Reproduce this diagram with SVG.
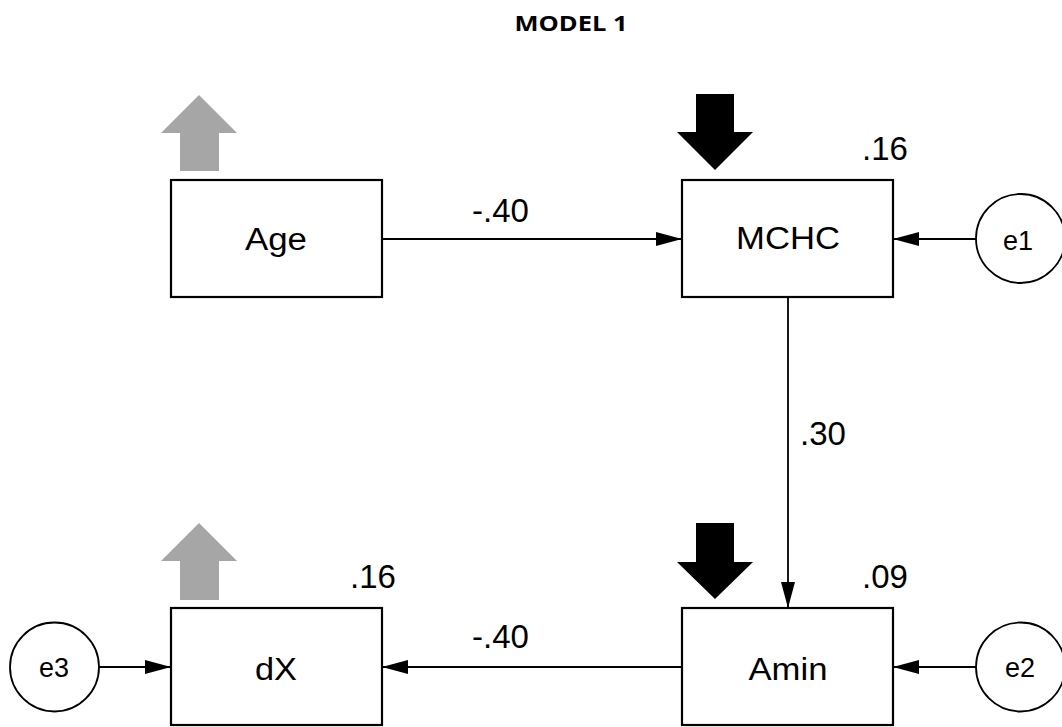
<svg xmlns="http://www.w3.org/2000/svg" width="1062" height="727" viewBox="0 0 1062 727">
<style>
.box{fill:#fff;stroke:#000;stroke-width:2.2}
.circ{fill:#fff;stroke:#000;stroke-width:1.8}
.lbl{font-family:"Liberation Sans",Arial,sans-serif;font-size:31px;fill:#000;text-anchor:middle}
.elbl{font-family:"Liberation Sans",Arial,sans-serif;font-size:27px;fill:#000;text-anchor:middle}
.num{font-family:"Liberation Sans",Arial,sans-serif;font-size:33px;fill:#000}
.conn{stroke:#000;stroke-width:1.8;fill:none;marker-end:url(#ah)}
.gray{fill:#a6a6a6}
.black{fill:#000}
</style>
<defs>
<marker id="ah" markerUnits="userSpaceOnUse" markerWidth="26" markerHeight="14" refX="26" refY="7" orient="auto">
<path d="M0,0 L26,7 L0,14 z" fill="#000"/>
</marker>
</defs>
<rect width="1062" height="727" fill="#fff"/>
<text x="571" y="31" font-family="'Open Sans','Liberation Sans',Arial,sans-serif" font-weight="bold" font-size="21" text-anchor="middle" textLength="113" lengthAdjust="spacingAndGlyphs">MODEL 1</text>
<g id="connectors">
<line class="conn" x1="382" y1="239" x2="682" y2="239"/>
<line class="conn" x1="976" y1="239" x2="893" y2="239"/>
<line class="conn" x1="788" y1="297" x2="788" y2="608"/>
<line class="conn" x1="976" y1="667" x2="893" y2="667"/>
<line class="conn" x1="682" y1="667" x2="382" y2="667"/>
<line class="conn" x1="99" y1="667" x2="171" y2="667"/>
<text class="num" x="472" y="222">-.40</text>
<text class="num" x="800" y="445">.30</text>
<text class="num" x="472" y="648">-.40</text>
</g>
<g id="node-age">
<polygon class="gray" points="199,95 237,133 219,133 219,171 180,171 180,133 161,133"/>
<rect class="box" x="171" y="180" width="211" height="117"/>
<text class="lbl" x="276" y="250" textLength="62" lengthAdjust="spacingAndGlyphs">Age</text>
</g>
<g id="node-mchc">
<polygon class="black" points="696,94 734,94 734,132 753,132 715,170 677,132 696,132"/>
<rect class="box" x="682" y="180" width="211" height="117"/>
<text class="lbl" x="788" y="249" textLength="104" lengthAdjust="spacingAndGlyphs">MCHC</text>
<text class="num" x="862" y="160">.16</text>
</g>
<g id="node-e1">
<circle class="circ" cx="1020.5" cy="238.5" r="44.5"/>
<text class="elbl" x="1018" y="250">e1</text>
</g>
<g id="node-amin">
<polygon class="black" points="696,523 734,523 734,562 753,562 715,599 677,562 696,562"/>
<rect class="box" x="682" y="608" width="211" height="117"/>
<text class="lbl" x="788" y="680" textLength="79" lengthAdjust="spacingAndGlyphs">Amin</text>
<text class="num" x="862" y="588">.09</text>
</g>
<g id="node-e2">
<circle class="circ" cx="1020.5" cy="667" r="44.5"/>
<text class="elbl" x="1020" y="677">e2</text>
</g>
<g id="node-dx">
<polygon class="gray" points="199,523 237,561 219,561 219,600 180,600 180,561 161,561"/>
<rect class="box" x="171" y="608" width="211" height="117"/>
<text class="lbl" x="276" y="680" textLength="42" lengthAdjust="spacingAndGlyphs">dX</text>
<text class="num" x="350" y="588">.16</text>
</g>
<g id="node-e3">
<circle class="circ" cx="54.5" cy="667" r="44.5"/>
<text class="elbl" x="54" y="677">e3</text>
</g>
</svg>
